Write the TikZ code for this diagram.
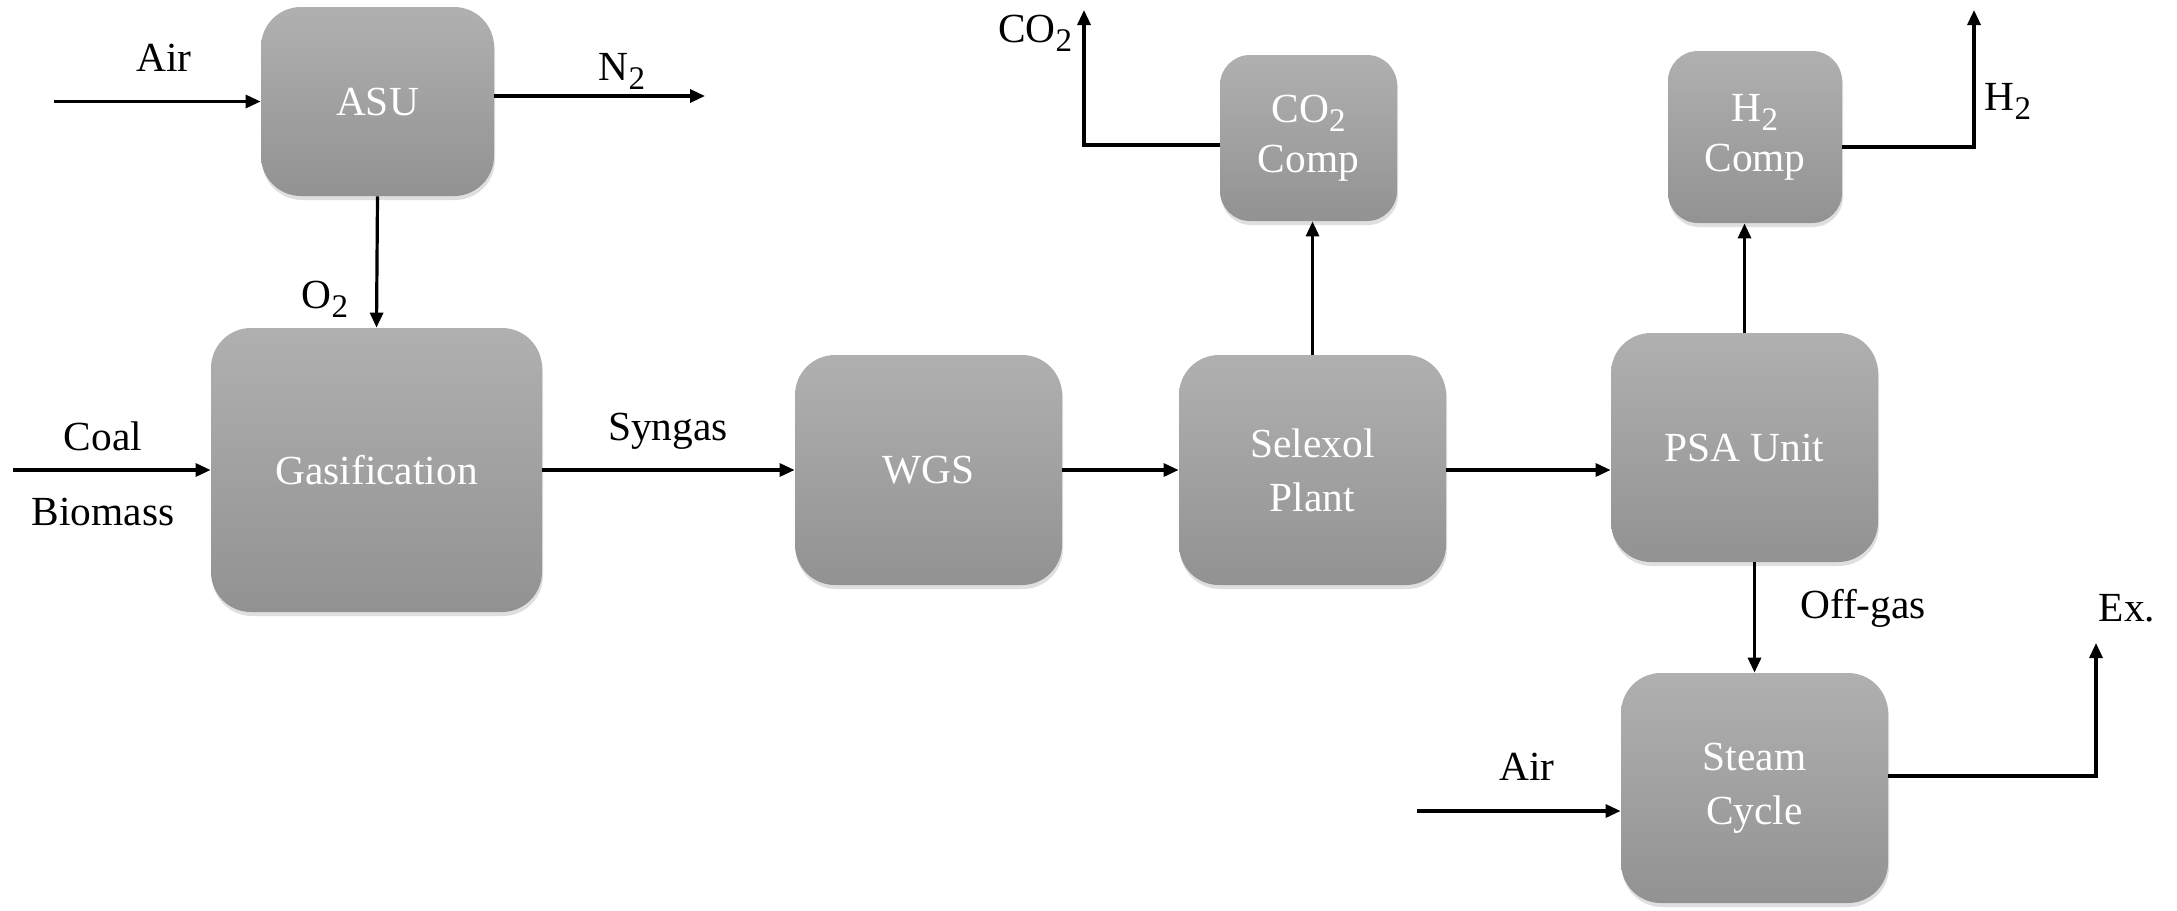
\documentclass[tikz,border=0pt]{standalone}
\usepackage{fontspec}
\setmainfont{Liberation Serif}
\usetikzlibrary{arrows.meta,shadows}
\definecolor{boxtop}{HTML}{B0B0B0}
\definecolor{boxbot}{HTML}{929292}
\newcommand{\subtwo}{\raisebox{-4.5pt}{\fontsize{16.5}{16.5}\selectfont 2}}
\begin{document}
\begin{tikzpicture}[x=0.5pt,y=-0.5pt,
  unit/.style={rounded corners=20pt, top color=boxtop, bottom color=boxbot, draw=none, text=white, align=center, inner sep=0pt, font=\fontsize{20.7}{27}\selectfont, drop shadow={opacity=0.25, shadow xshift=0.5pt, shadow yshift=-2pt}},
  small/.style={unit, rounded corners=15pt},
  flow/.style={line width=1.6pt, -{Triangle[length=7.5pt,width=6.5pt]}},
  lbl/.style={font=\fontsize{20.7}{27}\selectfont, inner sep=0pt, anchor=base}
]
\useasboundingbox (0,0) rectangle (2177,910);

\node[unit, minimum width=116.5pt, minimum height=94.5pt] (asu) at (377.5,101.5) {ASU};
\node[unit, minimum width=165.5pt, minimum height=142pt] (gas) at (376.5,470) {Gasification};
\node[unit, minimum width=133.5pt, minimum height=115pt] (wgs) at (928.5,470) {WGS};
\node[unit, minimum width=133.5pt, minimum height=115pt] (sel) at (1312.5,470) {Selexol\\Plant};
\node[unit, minimum width=133.5pt, minimum height=114.5pt] (psa) at (1744.5,447.5) {PSA Unit};
\node[small, minimum width=88.5pt, minimum height=83pt] (co2c) at (1308.5,138) {CO\subtwo\\[-2pt]Comp};
\node[small, minimum width=87pt, minimum height=86pt] (h2c) at (1755,137) {H\subtwo\\[-2pt]Comp};
\node[unit, minimum width=133.5pt, minimum height=115pt] (steam) at (1754.5,788) {Steam\\Cycle};

\coordinate (airin) at (54,101.5);
\coordinate (n2end) at (705,96);
\coordinate (coalin) at (13,470);
\coordinate (co2turn) at (1084,145);
\coordinate (co2end) at (1084,10);
\coordinate (h2turn) at (1974,147);
\coordinate (h2end) at (1974,10);
\coordinate (air2in) at (1417,811);
\coordinate (exturn) at (2096,776);
\coordinate (exend) at (2096,643);

\draw[flow] (airin) -- (asu.west);
\draw[flow] (asu.east |- n2end) -- (n2end);
\draw[flow] (asu.south) -- (gas.north);
\draw[flow] (coalin) -- (gas.west);
\draw[flow] (gas.east) -- (wgs.west);
\draw[flow] (wgs.east) -- (sel.west);
\draw[flow] (sel.east) -- (sel.east -| psa.west);
\draw[flow] (sel.north) -- (sel.north |- co2c.south);
\draw[flow] (co2c.west |- co2turn) -- (co2turn) -- (co2end);
\draw[flow] (psa.north) -- (psa.north |- h2c.south);
\draw[flow] (h2c.east |- h2turn) -- (h2turn) -- (h2end);
\draw[flow] (steam.north |- psa.south) -- (steam.north);
\draw[flow] (air2in) -- (air2in -| steam.west);
\draw[flow] (steam.east |- exturn) -- (exturn) -- (exend);

\node[lbl] (lair) at (164,71) {Air};
\node[lbl] (ln2) at (622,80) {N\subtwo};
\node[lbl] (lo2) at (325,308) {O\subtwo};
\node[lbl] (lcoal) at (103,450) {Coal};
\node[lbl] (lbio) at (103,525) {Biomass};
\node[lbl] (lsyn) at (668,440) {Syngas};
\node[lbl] (lco2) at (1035,42) {CO\subtwo};
\node[lbl] (lh2) at (2008,110) {H\subtwo};
\node[lbl] (loff) at (1863,618) {Off-gas};
\node[lbl] (lex) at (2127,621) {Ex.};
\node[lbl] (lair2) at (1527,780) {Air};
\end{tikzpicture}
\end{document}
